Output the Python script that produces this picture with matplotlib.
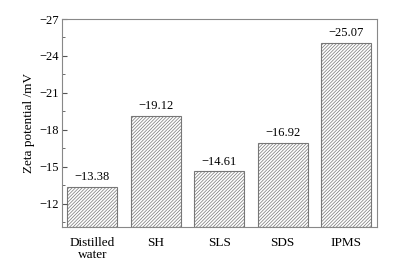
import matplotlib.pyplot as plt
import numpy as np
from matplotlib.ticker import MultipleLocator

plt.rcParams['font.family'] = ['Liberation Serif', 'DejaVu Serif']
plt.rcParams['hatch.color'] = '#555555'
plt.rcParams['hatch.linewidth'] = 0.5

categories = ['Distilled\nwater', 'SH', 'SLS', 'SDS', 'IPMS']
zeta = [-13.38, -19.12, -14.61, -16.92, -25.07]
base = -10.1

fig = plt.figure(figsize=(3.96, 2.65), dpi=100)
ax = fig.add_axes([62 / 396, 1 - 227 / 265, 315 / 396, 208 / 265])

x = np.arange(len(categories))
heights = [v - base for v in zeta]
ax.bar(x, heights, bottom=base, width=0.79, color='white',
       edgecolor='#777777', linewidth=0.8, hatch='//////////')

for xi, v in zip(x, zeta):
    ax.text(xi, v - 0.3, '\u2212%.2f' % abs(v), ha='center', va='bottom', fontsize=9)

ax.set_xlim(-0.48, 4.49)
ax.set_ylim(base, -27)
ax.yaxis.set_major_locator(MultipleLocator(3))
ax.yaxis.set_minor_locator(MultipleLocator(1.5))
ax.yaxis.set_major_formatter(plt.FuncFormatter(lambda v, p: '\u2212%d' % abs(v)))
ax.set_xticks(x)
ax.set_xticklabels(categories, fontsize=9.5, linespacing=1.0)
ax.tick_params(axis='x', length=0, pad=7)
ax.tick_params(axis='y', which='both', direction='in', color='#555555', labelsize=9, pad=2)
ax.tick_params(axis='y', which='major', length=3.5)
ax.tick_params(axis='y', which='minor', length=2)
ax.set_ylabel('Zeta potential /mV', fontsize=9.5, labelpad=3)
for s in ax.spines.values():
    s.set_color('#888888')
    s.set_linewidth(0.8)

fig.savefig('out.png', dpi=100)
